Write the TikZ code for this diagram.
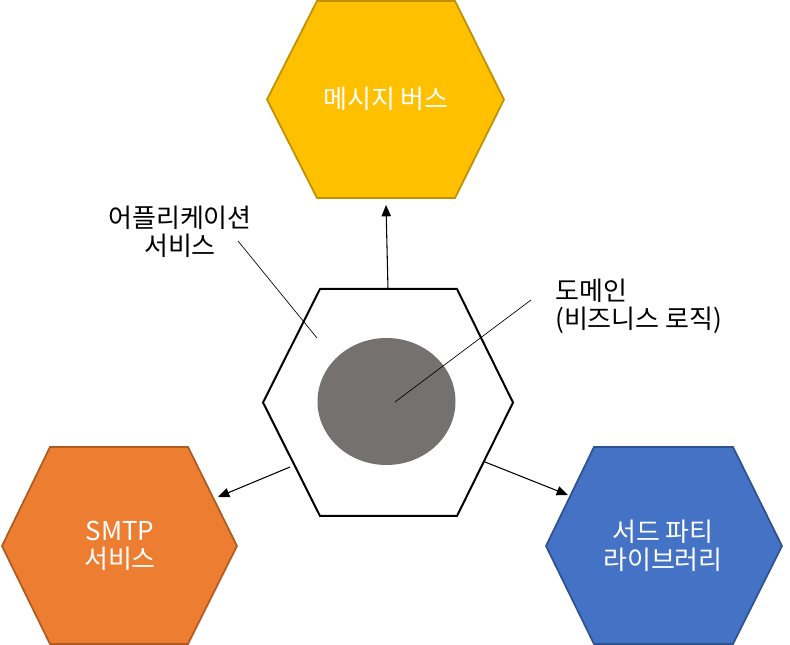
\documentclass[tikz,border=0pt]{standalone}
\usepackage{fontspec}
\newfontfamily\krfont{Noto Sans CJK KR}
\usetikzlibrary{arrows.meta}
\definecolor{yelfill}{HTML}{FFC000}
\definecolor{yeldraw}{HTML}{BF9000}
\definecolor{orafill}{HTML}{ED7D31}
\definecolor{oradraw}{HTML}{AE5A21}
\definecolor{blufill}{HTML}{4472C4}
\definecolor{bludraw}{HTML}{2F528F}
\definecolor{domfill}{HTML}{767171}
\tikzset{
  hexline/.style={line width=1.3pt, line join=miter},
  intxt/.style={text=white, align=center, font=\krfont\fontsize{19.5}{21}\selectfont, inner sep=0pt},
  outtxt/.style={text=black, font=\krfont\fontsize{19.5}{21}\selectfont, inner sep=0pt},
  arr/.style={line width=0.8pt, -{Triangle[length=8.5pt,width=7pt]}},
  leader/.style={line width=0.5pt}
}
\begin{document}
\begin{tikzpicture}[x=0.75pt,y=-0.75pt]
\useasboundingbox (0,0) rectangle (790,645);
% message bus
\draw[hexline, fill=yelfill, draw=yeldraw] (267,99.5) -- (317,1) -- (455,1) -- (504,99.5) -- (455,198) -- (317,198) -- cycle;
\node[intxt] (bus) at (386,99) {메시지 버스};
% SMTP
\draw[hexline, fill=orafill, draw=oradraw] (2,546) -- (50,447) -- (188,447) -- (237,546) -- (188,644) -- (50,644) -- cycle;
\node[intxt] (smtp) at (120,546) {SMTP\\서비스};
% third party
\draw[hexline, fill=blufill, draw=bludraw] (546,546) -- (594,447) -- (733,447) -- (782,546) -- (733,644) -- (594,644) -- cycle;
\node[intxt] (lib) at (663,546) {서드 파티\\라이브러리};
% center
\draw[line width=1.5pt, line join=miter] (263,402.5) -- (320,289) -- (457,289) -- (513,402.5) -- (457,516) -- (320,516) -- cycle;
\fill[domfill] (386.5,401.5) ellipse [x radius=69, y radius=63.5];
\coordinate (domc) at (395,402);
\coordinate (appc) at (317,338);
% arrows
\coordinate (a1s) at (388,289);
\coordinate (a1e) at (386,205);
\coordinate (a2s) at (290,467);
\coordinate (a2e) at (218,497);
\coordinate (a3s) at (485,462);
\coordinate (a3e) at (568,495);
\draw[arr] (a1s) -- (a1e);
\draw[arr] (a2s) -- (a2e);
\draw[arr] (a3s) -- (a3e);
% labels
\node[outtxt, align=center] (applbl) at (180,232) {어플리케이션\\서비스};
\node[outtxt, align=left, anchor=west] (domlbl) at (555,306) {도메인\\(비즈니스 로직)};
\coordinate (l1) at (238,241);
\coordinate (l2) at (531,300);
\draw[leader] (l1) -- (appc);
\draw[leader] (l2) -- (domc);
\end{tikzpicture}
\end{document}
